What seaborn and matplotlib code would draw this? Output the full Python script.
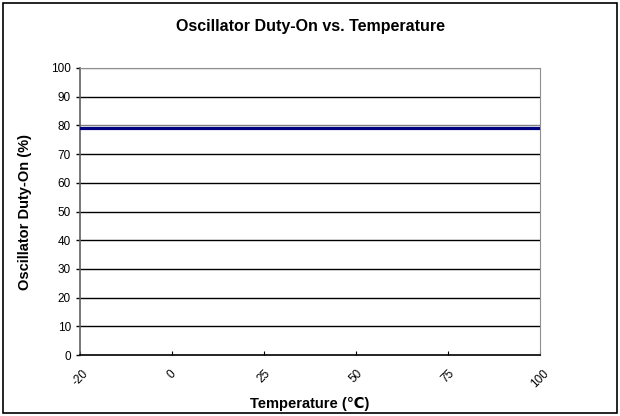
import numpy as np
import pandas as pd
import matplotlib
matplotlib.use("Agg")
import matplotlib.pyplot as plt
import seaborn as sns
from matplotlib.patches import Rectangle

temps = ["-20", "0", "25", "50", "75", "100"]
duty_on = [79, 79, 79, 79, 79, 79]

df = pd.DataFrame({"pos": np.arange(len(temps)), "duty": duty_on})

sns.set_style("white")
plt.rcParams['font.family'] = ['Liberation Sans', 'DejaVu Sans']
plt.rcParams['text.color'] = 'black'
plt.rcParams['axes.labelcolor'] = 'black'
plt.rcParams['xtick.color'] = 'black'
plt.rcParams['ytick.color'] = 'black'

fig = plt.figure(figsize=(6.2, 4.16), dpi=100)
ax = fig.add_axes([80 / 620, 1 - 355 / 416, 460 / 620, 287 / 416])

for v in range(10, 101, 10):
    col = "#808080" if v in (80, 100) else "black"
    ax.axhline(v, color=col, lw=1.0, zorder=1)

sns.lineplot(data=df, x="pos", y="duty", color="#000080", lw=2.3, ax=ax, zorder=3)

ax.set_xlim(0, len(temps) - 1)
ax.set_ylim(0, 100)
ax.set_yticks(range(0, 101, 10))
ax.set_xticks(range(len(temps)))
ax.set_xticklabels(temps, rotation=45, fontsize=8.5, ha="center")
ax.tick_params(axis="y", labelsize=8.5, length=3, direction="out", left=True, width=1)
ax.tick_params(axis="x", length=3, direction="in", bottom=True, pad=9)

for s in ["top", "right"]:
    ax.spines[s].set_color("#909090")
ax.spines["left"].set_color("#606060")
ax.spines["bottom"].set_color("black")
ax.spines["left"].set_linewidth(1.2)
ax.spines["bottom"].set_linewidth(1.2)

ax.set_xlabel("Temperature (\u2103)", fontsize=10.5, fontweight="bold", labelpad=5)
ax.set_ylabel("Oscillator Duty-On (%)", fontsize=10.5, fontweight="bold", labelpad=14)
fig.text(0.5, 1 - 27 / 416, "Oscillator Duty-On vs. Temperature", ha="center", va="center",
         fontsize=11.5, fontweight="bold")

fig.patches.append(Rectangle((3 / 620, 3 / 416), 614 / 620, 410 / 416, transform=fig.transFigure,
                             fill=False, edgecolor="black", lw=1.2))

fig.savefig("out.png", dpi=100)
